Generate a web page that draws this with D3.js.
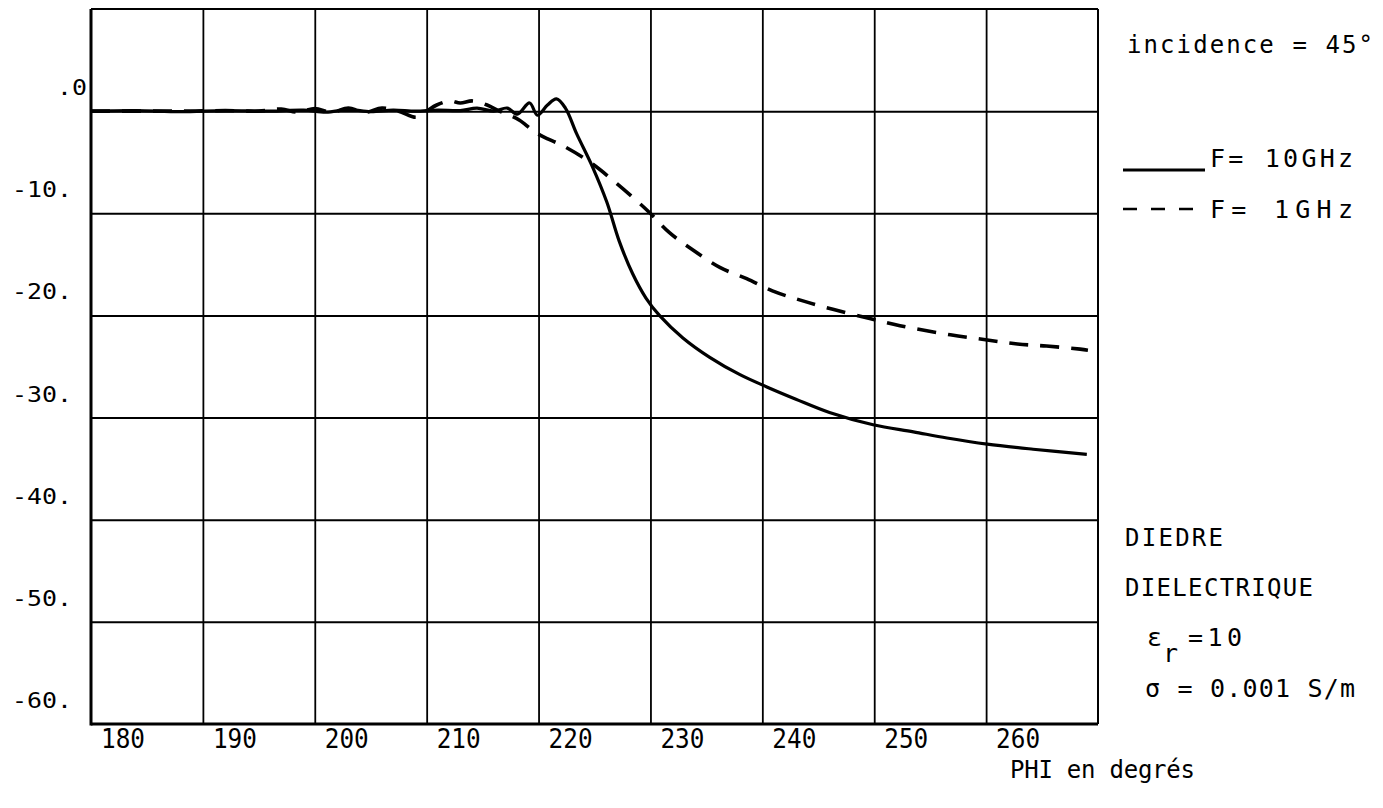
<!DOCTYPE html>
<html>
<head>
<meta charset="utf-8">
<script src="https://cdn.jsdelivr.net/npm/d3@7"></script>
<style>
  html, body { margin: 0; padding: 0; background: #fff; }
  svg { display: block; }
  text { font-family: "DejaVu Sans Mono", "Liberation Mono", monospace; fill: #000; }
</style>
</head>
<body>
<svg id="chart" width="1383" height="808"></svg>
<script>
// ---- data ----
const xTicks = [180, 190, 200, 210, 220, 230, 240, 250, 260];
const xTickLabels = ["180", "190", "200", "210", "220", "230", "240", "250", "260"];
const yTicks = [0, -10, -20, -30, -40, -50, -60];
const yTickLabels = [".0", "-10.", "-20.", "-30.", "-40.", "-50.", "-60."];

// F = 10 GHz (solid)
const phi10 = [180, 184, 188, 192, 196, 199, 201, 203, 205, 207, 209, 211, 213, 214.5, 216, 217.2, 218.1, 219.2, 219.9, 220.8, 221.6, 222.4, 223.4, 224.8, 226.1, 227.2, 228.4, 229.6, 230.8, 232.9, 235.3, 238.0, 240.4, 243.0, 246.0, 249.9, 253.5, 256.5, 260.1, 264.2, 269.0];
const db10 = [0, 0.05, -0.05, 0.05, 0, 0.1, -0.1, 0.15, -0.05, 0.1, 0, 0.1, 0.05, 0.3, 0.0, 0.3, -0.3, 0.8, -0.4, 0.6, 1.2, 0.3, -2.2, -5.4, -8.9, -12.7, -15.9, -18.3, -20.0, -22.2, -24.1, -25.8, -27.0, -28.2, -29.5, -30.7, -31.4, -32.0, -32.6, -33.1, -33.6];

// F = 1 GHz (dashed)
const phi1 = [180, 184, 188, 192, 195, 197, 198.5, 200, 201.5, 203, 204.5, 206, 207.5, 209.1, 210.0, 210.9, 212.1, 213.0, 214.1, 215.4, 216.5, 217.4, 218.3, 219.5, 220.4, 222.2, 224.6, 227.0, 229.7, 231.7, 233.8, 236.2, 238.6, 240.9, 243.4, 246.3, 249.6, 252.3, 256.8, 260.1, 262.8, 265.4, 268.4, 269.1];
const db1 = [0, 0, 0, 0.05, 0, 0.2, -0.1, 0.25, -0.1, 0.3, -0.1, 0.3, 0.0, -0.6, 0.0, 0.6, 1.0, 0.8, 1.0, 0.6, 0.0, -0.4, -0.9, -1.9, -2.5, -3.4, -5.0, -7.1, -9.7, -11.9, -13.6, -15.3, -16.4, -17.6, -18.5, -19.4, -20.3, -21.0, -21.9, -22.4, -22.8, -23.0, -23.3, -23.4];

const legendLabels = ["F= 10GHz", "F=  1GHz"];
const titleText = "incidence = 45°";
const noteLines = ["DIEDRE", "DIELECTRIQUE"];
const xTitle = "PHI en degrés";

// ---- layout ----
const svg = d3.select("#chart");
const pL = 91, pR = 1098, pT = 9, pB = 724;
const x = d3.scaleLinear().domain([180, 270]).range([pL, pR]);
const y = d3.scaleLinear().domain([-60, 10]).range([pB, pT]);

// grid via axes
svg.append("g")
  .attr("transform", `translate(0,${pB})`)
  .call(d3.axisBottom(x).tickValues(d3.range(190, 270, 10)).tickSize(-(pB - pT)).tickFormat(""))
  .call(g => g.select(".domain").remove())
  .call(g => g.selectAll("line").attr("stroke", "#000").attr("stroke-width", 1.8));

svg.append("g")
  .attr("transform", `translate(${pL},0)`)
  .call(d3.axisLeft(y).tickValues(d3.range(-50, 10, 10)).tickSize(-(pR - pL)).tickFormat(""))
  .call(g => g.select(".domain").remove())
  .call(g => g.selectAll("line").attr("stroke", "#000").attr("stroke-width", 2));

// frame
svg.append("line").attr("x1", pL).attr("x2", pR).attr("y1", pT).attr("y2", pT).attr("stroke", "#000").attr("stroke-width", 2);
svg.append("line").attr("x1", pR).attr("x2", pR).attr("y1", pT).attr("y2", pB).attr("stroke", "#000").attr("stroke-width", 2);
svg.append("line").attr("x1", pL).attr("x2", pL).attr("y1", pT).attr("y2", pB + 1.5).attr("stroke", "#000").attr("stroke-width", 3);
svg.append("line").attr("x1", pL).attr("x2", pR).attr("y1", pB).attr("y2", pB).attr("stroke", "#000").attr("stroke-width", 3);

// x tick labels
svg.append("g").selectAll("text").data(xTicks).join("text")
  .attr("x", d => x(d) + 10)
  .attr("y", pB + 24)
  .attr("font-size", 26)
  .attr("textLength", 44)
  .attr("lengthAdjust", "spacingAndGlyphs")
  .text((d, i) => xTickLabels[i]);

// y tick labels (aligned on decimal point)
const charW = 15, dotEnd = 72;
svg.append("g").selectAll("text").data(yTicks).join("text")
  .attr("x", (d, i) => dotEnd - charW * (yTickLabels[i].indexOf(".") + 1))
  .attr("y", d => y(d) - 16)
  .attr("font-size", 22)
  .attr("textLength", (d, i) => charW * yTickLabels[i].length)
  .attr("lengthAdjust", "spacingAndGlyphs")
  .text((d, i) => yTickLabels[i]);

// curves
const line = d3.line().x(d => x(d[0])).y(d => y(d[1])).curve(d3.curveCatmullRom.alpha(0.5));
const s10 = phi10.map((p, i) => [p, db10[i]]);
const s1 = phi1.map((p, i) => [p, db1[i]]);

svg.append("path").datum(s1).attr("d", line)
  .attr("fill", "none").attr("stroke", "#000").attr("stroke-width", 3.6)
  .attr("stroke-dasharray", "19,12");
svg.append("path").datum(s10).attr("d", line)
  .attr("fill", "none").attr("stroke", "#000").attr("stroke-width", 3.2)
  .attr("stroke-linejoin", "round");

// right-side annotations
svg.append("text").attr("x", 1127).attr("y", 53).attr("font-size", 24)
  .attr("textLength", 246).attr("lengthAdjust", "spacing").text(titleText);

// legend
svg.append("line").attr("x1", 1123).attr("x2", 1205).attr("y1", 170).attr("y2", 170)
  .attr("stroke", "#000").attr("stroke-width", 3);
svg.append("text").attr("x", 1210).attr("y", 167).attr("font-size", 25)
  .attr("textLength", 143).attr("lengthAdjust", "spacing").text(legendLabels[0]);
svg.append("line").attr("x1", 1123).attr("x2", 1200).attr("y1", 209).attr("y2", 209)
  .attr("stroke", "#000").attr("stroke-width", 2.5).attr("stroke-dasharray", "14,14");
svg.append("text").attr("x", 1210).attr("y", 218).attr("font-size", 25)
  .attr("textLength", 143).attr("lengthAdjust", "spacing").text(legendLabels[1]);

// material notes
svg.append("text").attr("x", 1125).attr("y", 546).attr("font-size", 24)
  .attr("textLength", 98).attr("lengthAdjust", "spacing").text(noteLines[0]);
svg.append("text").attr("x", 1125).attr("y", 596).attr("font-size", 24)
  .attr("textLength", 188).attr("lengthAdjust", "spacing").text(noteLines[1]);

const eps = svg.append("text").attr("x", 1147).attr("y", 646).attr("font-size", 25);
eps.append("tspan").text("ε");
eps.append("tspan").attr("dy", 16).attr("dx", 1).text("r");
svg.append("text").attr("x", 1188).attr("y", 646).attr("font-size", 25)
  .attr("textLength", 54).attr("lengthAdjust", "spacing").text("=10");
svg.append("text").attr("x", 1145).attr("y", 697).attr("font-size", 25)
  .attr("textLength", 210).attr("lengthAdjust", "spacing").text("σ = 0.001 S/m");

svg.append("text").attr("x", 1010).attr("y", 778).attr("font-size", 24)
  .attr("textLength", 185).attr("lengthAdjust", "spacing").text(xTitle);
</script>
</body>
</html>
